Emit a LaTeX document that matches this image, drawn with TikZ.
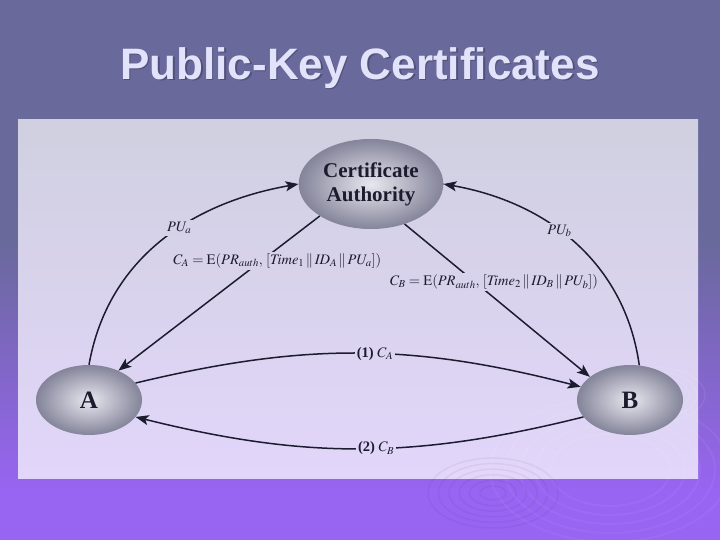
\documentclass[tikz,border=0pt]{standalone}
\usepackage{mathptmx}
\usepackage{fontspec}
\setmainfont{Liberation Serif}
\newfontfamily\titlefont{Liberation Sans}
\usetikzlibrary{arrows.meta,shapes.geometric}

\definecolor{slidetop}{RGB}{105,105,155}
\definecolor{slidebot}{RGB}{152,100,242}
\definecolor{paneltop}{RGB}{208,208,224}
\definecolor{panelbot}{RGB}{226,214,250}
\definecolor{titletext}{RGB}{226,226,250}
\definecolor{titleshadow}{RGB}{80,80,122}
\definecolor{ink}{RGB}{28,28,48}
\definecolor{ballin}{RGB}{232,232,240}
\definecolor{ballout}{RGB}{132,132,154}

\begin{document}
\begin{tikzpicture}[x=1pt,y=1pt,
        party/.style={ellipse, inner color=ballin, outer color=ballout, text=ink,
            font=\bfseries\fontsize{25}{25}\selectfont},
        msg/.style={draw=ink, line width=1.5pt, -{Stealth[length=13pt,width=10pt,inset=3pt]}},
        lbl/.style={fill=paneltop!62!panelbot, inner sep=2pt, text=ink,
            font=\fontsize{14.5}{16}\selectfont}]
        % slide background and panel
        \fill[slidetop] (0,0) rectangle (720,-240);
        \shade[top color=slidetop, bottom color=slidebot] (0,-240) rectangle (720,-490);
        \fill[slidebot] (0,-490) rectangle (720,-540);
        \useasboundingbox (0,0) rectangle (720,-540);
        \node[titleshadow, font=\titlefont\bfseries\fontsize{44}{44}\selectfont] (shadow) at (361.5,-69.5) {Public-Key Certificates};
        \node[titletext, font=\titlefont\bfseries\fontsize{44}{44}\selectfont] (title) at (360,-68) {Public-Key Certificates};
        \shade[top color=paneltop, bottom color=panelbot] (18,-120) rectangle (698,-478);
        \foreach \r in {10,18,...,50}{
            \draw[white, opacity=0.08, line width=1.2pt] (655,-395) ellipse ({\r} and {0.55*\r});
            \draw[violet!60!black, opacity=0.06, line width=1.5pt] (493,-493) ellipse ({1.3*\r} and {0.7*\r});
        }
        \foreach \r in {60,75,...,120}{
            \draw[white, opacity=0.05, line width=2pt] (610,-470) ellipse ({\r} and {0.6*\r});
        }

        \node[party, minimum width=122pt, minimum height=90pt, align=center,
            font=\bfseries\fontsize{21}{24}\selectfont] (ca) at (371,-184) {Certificate\\Authority};
        \node[party, minimum width=106pt, minimum height=70pt] (a) at (89,-400) {A};
        \node[party, minimum width=106pt, minimum height=70pt] (b) at (630,-400) {B};

        \draw[msg] (a.north) to[out=80, in=190] node[lbl, pos=0.58, fill=paneltop!70!panelbot] {$PU_a$} (ca.west);
        \draw[msg] (b.75) to[out=98, in=-10] node[lbl, pos=0.57, fill=paneltop!70!panelbot] {$PU_b$} (ca.east);
        \draw[msg] (ca.212) -- node[lbl, pos=0.29, xshift=16pt]
            {$C_A = \mathrm{E}(PR_{auth},\, [\mathit{Time}_1 \,\|\, \mathit{ID}_A \,\|\, PU_a])$} (a.45);
        \draw[msg] (ca.-50) -- node[lbl, pos=0.38, xshift=19pt, fill=paneltop!55!panelbot]
            {$C_B = \mathrm{E}(PR_{auth},\, [\mathit{Time}_2 \,\|\, \mathit{ID}_B \,\|\, PU_b])$} (b.150);
        \draw[msg] (a.20) to[bend left=14] node[lbl, pos=0.54, fill=paneltop!34!panelbot] {\textbf{(1)} $C_A$} (b.165);
        \draw[msg] (b.200) to[bend left=14] node[lbl, pos=0.46, fill=paneltop!8!panelbot] {\textbf{(2)} $C_B$} (a.-20);
    \end{tikzpicture}
\end{document}
